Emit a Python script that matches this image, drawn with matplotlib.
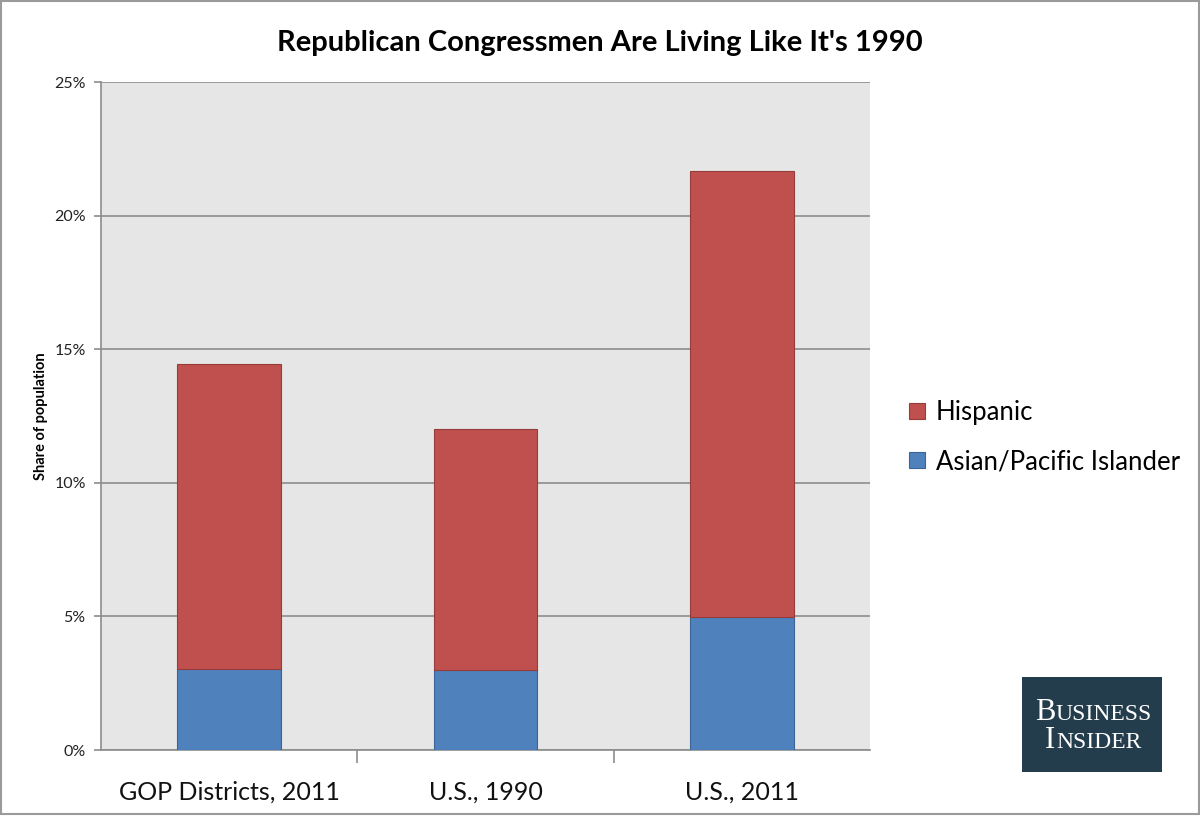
import matplotlib.pyplot as plt
from matplotlib.patches import Rectangle

categories = ["GOP Districts, 2011", "U.S., 1990", "U.S., 2011"]
asian = [3.05, 2.98, 4.97]
hispanic = [11.38, 9.03, 16.71]

red = "#C0504D"
blue = "#4F81BD"
font = "Lato"

fig = plt.figure(figsize=(12, 8.16), dpi=100)
ax = fig.add_axes([101 / 1200, 1 - 750 / 816, (870 - 101) / 1200, (750 - 82) / 816])

x = range(len(categories))
b1 = ax.bar(x, asian, width=0.405, color=blue, edgecolor="#3a6596", linewidth=0.8,
            label="Asian/Pacific Islander", zorder=3)
b2 = ax.bar(x, hispanic, bottom=asian, width=0.405, color=red, edgecolor="#963c3a",
            linewidth=0.8, label="Hispanic", zorder=3)

ax.set_xlim(-0.5, 2.5)
ax.set_ylim(0, 25)
ax.set_facecolor("#E6E6E6")
ax.set_yticks([0, 5, 10, 15, 20, 25])
ax.set_yticklabels(["0%", "5%", "10%", "15%", "20%", "25%"], fontsize=11.5,
                   family=font, color="#222222")
ax.yaxis.grid(True, color="#8c8c8c", linewidth=1.2, zorder=0)
ax.set_axisbelow(True)
ax.tick_params(axis="y", length=5, color="#8c8c8c", width=1.2, pad=6)

ax.set_xticks([0.5, 1.5], minor=True)
ax.set_xticks(list(x))
ax.set_xticklabels(categories, fontsize=18, family=font, color="#111111")
ax.tick_params(axis="x", which="major", length=0, pad=22)
ax.tick_params(axis="x", which="minor", length=9, color="#8c8c8c", width=1.2)

for side in ["top", "right"]:
    ax.spines[side].set_visible(False)
for side in ["left", "bottom"]:
    ax.spines[side].set_color("#8c8c8c")
    ax.spines[side].set_linewidth(1.2)

ax.set_ylabel("Share of population", fontsize=10.5, fontweight="bold", family=font)
ax.yaxis.set_label_coords((48 - 101) / 769, 0.5)

fig.text(0.5, 1 - 43 / 816, "Republican Congressmen Are Living Like It's 1990",
         ha="center", va="center", fontsize=21, fontweight="bold", family=font)

handles = [b2, b1]
fig.legend(handles, ["Hispanic", "Asian/Pacific Islander"], loc="center left",
           bbox_to_anchor=(886 / 1200, 1 - 437 / 816), frameon=False,
           prop={"family": font, "size": 18.5}, handlelength=0.6,
           handleheight=0.6, labelspacing=0.95, handletextpad=0.45)

# Business Insider logo
fig.patches.append(Rectangle((1022 / 1200, 1 - 772 / 816), 140 / 1200, 95 / 816,
                             transform=fig.transFigure, facecolor="#233D4D",
                             edgecolor="none", zorder=5))


def small_caps(word, xc, yc):
    big = fig.text(0, 0, word[0], color="white", fontsize=22, family="Liberation Serif",
                   va="baseline", zorder=6)
    rest = fig.text(0, 0, word[1:].upper(), color="white", fontsize=17,
                    family="Liberation Serif", va="baseline", zorder=6)
    r = fig.canvas.get_renderer()
    w1 = big.get_window_extent(r).width / 1200
    w2 = rest.get_window_extent(r).width / 1200
    x0 = xc - (w1 + w2) / 2
    big.set_position((x0, yc))
    rest.set_position((x0 + w1 + 0.5 / 1200, yc))


small_caps("BUSINESS", 1093 / 1200, 1 - 720 / 816)
small_caps("INSIDER", 1093 / 1200, 1 - 748 / 816)

# figure border
fig.patches.append(Rectangle((0.0005, 0.002), 0.999, 0.997, transform=fig.transFigure,
                             facecolor="none", edgecolor="#9a9a9a", linewidth=1.5))

fig.savefig("out.png", dpi=100, facecolor="white")
